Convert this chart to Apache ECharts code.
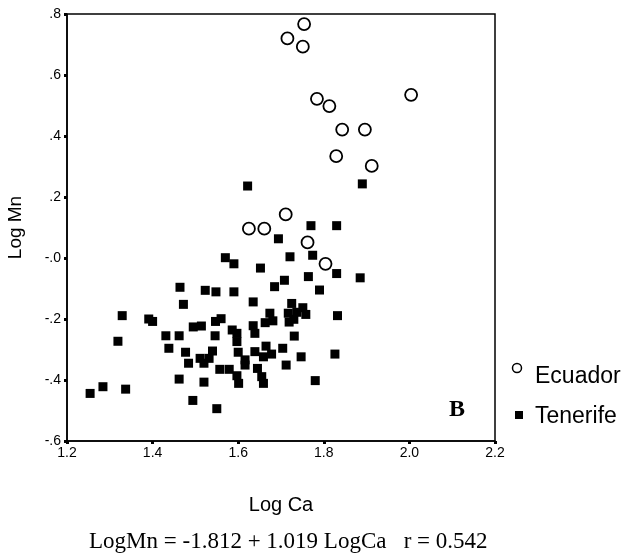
<!DOCTYPE html>
<html>
<head>
<meta charset="utf-8">
<script src="https://cdn.jsdelivr.net/npm/echarts@6/dist/echarts.min.js"></script>
<style>html,body{margin:0;padding:0;background:#fff;}#c{width:626px;height:559px;}</style>
</head>
<body>
<div id="c"></div>
<script>
// Data
const ecuadorLogCa = [1.754, 1.715, 1.751, 2.004, 1.784, 1.813, 1.843, 1.896, 1.829, 1.912, 1.711, 1.625, 1.661, 1.762, 1.804];
const ecuadorLogMn = [0.767, 0.720, 0.693, 0.535, 0.522, 0.498, 0.421, 0.421, 0.334, 0.302, 0.143, 0.096, 0.096, 0.051, -0.019];

const tenerifeLogCa = [1.622, 1.890, 1.570, 1.590, 1.464, 1.523, 1.548, 1.590, 1.770, 1.830,
  1.694, 1.721, 1.774, 1.652, 1.764, 1.830, 1.885, 1.708, 1.685, 1.790,
  1.635, 1.725, 1.751, 1.472, 1.329, 1.391, 1.400, 1.495, 1.514, 1.547,
  1.560, 1.586, 1.597, 1.431, 1.462, 1.546, 1.597, 1.319, 1.438, 1.477,
  1.540, 1.511, 1.532, 1.484, 1.520, 1.600, 1.557, 1.579, 1.597, 1.601,
  1.254, 1.284, 1.337, 1.462, 1.520, 1.494, 1.550, 1.832, 1.674, 1.717,
  1.737, 1.758, 1.663, 1.681, 1.719, 1.730, 1.635, 1.639, 1.731, 1.639,
  1.665, 1.678, 1.659, 1.704, 1.747, 1.826, 1.616, 1.616, 1.712, 1.645,
  1.655, 1.659, 1.780];
const tenerifeLogMn = [0.236, 0.243, 0.001, -0.019, -0.096, -0.106, -0.111, -0.111, 0.106, 0.106,
  0.063, 0.004, 0.009, -0.033, -0.061, -0.051, -0.065, -0.073, -0.094, -0.105,
  -0.144, -0.149, -0.163, -0.152, -0.189, -0.200, -0.208, -0.226, -0.223, -0.208,
  -0.199, -0.236, -0.247, -0.255, -0.255, -0.255, -0.274, -0.273, -0.296, -0.309,
  -0.305, -0.329, -0.329, -0.345, -0.345, -0.309, -0.365, -0.365, -0.386, -0.411,
  -0.444, -0.422, -0.430, -0.397, -0.407, -0.467, -0.494, -0.189, -0.181, -0.181,
  -0.178, -0.185, -0.212, -0.206, -0.210, -0.201, -0.222, -0.247, -0.256, -0.307,
  -0.289, -0.315, -0.324, -0.296, -0.324, -0.315, -0.334, -0.351, -0.351, -0.362,
  -0.389, -0.411, -0.402];

const xTickValues = [1.2, 1.4, 1.6, 1.8, 2.0, 2.2];
const xTickLabels = ['1.2', '1.4', '1.6', '1.8', '2.0', '2.2'];
const yTickValues = [-0.6, -0.4, -0.2, 0.0, 0.2, 0.4, 0.6, 0.8];
const yTickLabels = ['-.6', '-.4', '-.2', '-.0', '.2', '.4', '.6', '.8'];

const seriesNames = ['Ecuador', 'Tenerife'];
const xTitle = 'Log Ca';
const yTitle = 'Log Mn';
const panelLabel = 'B';
const equationText = 'LogMn = -1.812 + 1.019 LogCa   r = 0.542';

function pairs(xs, ys) { return xs.map((x, i) => [x, ys[i]]); }
function labelFor(values, labels) {
  return function (v) {
    for (let i = 0; i < values.length; i++) {
      if (Math.abs(values[i] - v) < 1e-6) return labels[i];
    }
    return '';
  };
}

const SANS = '"Liberation Sans", Arial, Helvetica, sans-serif';
const SERIF = '"Liberation Serif", "Times New Roman", serif';
const chart = echarts.init(document.getElementById('c'), null, { renderer: 'canvas' });
const axisFont = { fontFamily: SANS, fontSize: 14, color: '#000' };

chart.setOption({
  animation: false,
  backgroundColor: '#fff',
  grid: {
    left: 67, right: 131, top: 14, bottom: 118,
    containLabel: false, outerBoundsMode: 'none',
    show: true, borderColor: '#000', borderWidth: 1.5, backgroundColor: 'transparent'
  },
  xAxis: {
    type: 'value', min: 1.2, max: 2.2, interval: 0.2,
    axisLine: { show: true, onZero: false, lineStyle: { color: '#000', width: 1.5 } },
    axisTick: { show: true, inside: false, length: 3, lineStyle: { color: '#000', width: 3 } },
    splitLine: { show: false },
    axisLabel: Object.assign({ margin: 5, formatter: labelFor(xTickValues, xTickLabels) }, axisFont),
    name: xTitle, nameLocation: 'middle', nameGap: 54,
    nameTextStyle: { fontFamily: SANS, fontSize: 20, color: '#000' }
  },
  yAxis: {
    type: 'value', min: -0.6, max: 0.8, interval: 0.2,
    axisLine: { show: true, onZero: false, lineStyle: { color: '#000', width: 1.5 } },
    axisTick: { show: true, inside: false, length: 3, lineStyle: { color: '#000', width: 3 } },
    splitLine: { show: false },
    axisLabel: Object.assign({ margin: 6, formatter: labelFor(yTickValues, yTickLabels) }, axisFont),
    name: yTitle, nameLocation: 'middle', nameGap: 42, nameRotate: 90,
    nameTextStyle: { fontFamily: SANS, fontSize: 19, color: '#000' }
  },
  series: [
    {
      name: seriesNames[1], type: 'scatter', symbol: 'rect', symbolSize: 9,
      itemStyle: { color: '#000', opacity: 1 },
      data: pairs(tenerifeLogCa, tenerifeLogMn), z: 2
    },
    {
      name: seriesNames[0], type: 'scatter', symbol: 'circle', symbolSize: 12,
      itemStyle: { color: '#fff', borderColor: '#000', borderWidth: 1.8, opacity: 1 },
      data: pairs(ecuadorLogCa, ecuadorLogMn), z: 3
    }
  ],
  graphic: [
    {
      type: 'text', left: 449, top: 398,
      style: { text: panelLabel, font: 'bold 24px ' + SERIF, fill: '#000' }
    },
    {
      type: 'text', left: 89, top: 530,
      style: { text: equationText, font: '23px ' + SERIF, fill: '#000', whiteSpace: 'pre' }
    },
    // legend
    { type: 'circle', shape: { cx: 517, cy: 368, r: 4.5 }, style: { fill: '#fff', stroke: '#000', lineWidth: 1.5 } },
    { type: 'text', left: 535, top: 365, style: { text: seriesNames[0], font: '23px ' + SANS, fill: '#000' } },
    { type: 'rect', shape: { x: 515, y: 411, width: 8, height: 8 }, style: { fill: '#000' } },
    { type: 'text', left: 535, top: 405, style: { text: seriesNames[1], font: '23px ' + SANS, fill: '#000' } }
  ]
});
</script>
</body>
</html>
